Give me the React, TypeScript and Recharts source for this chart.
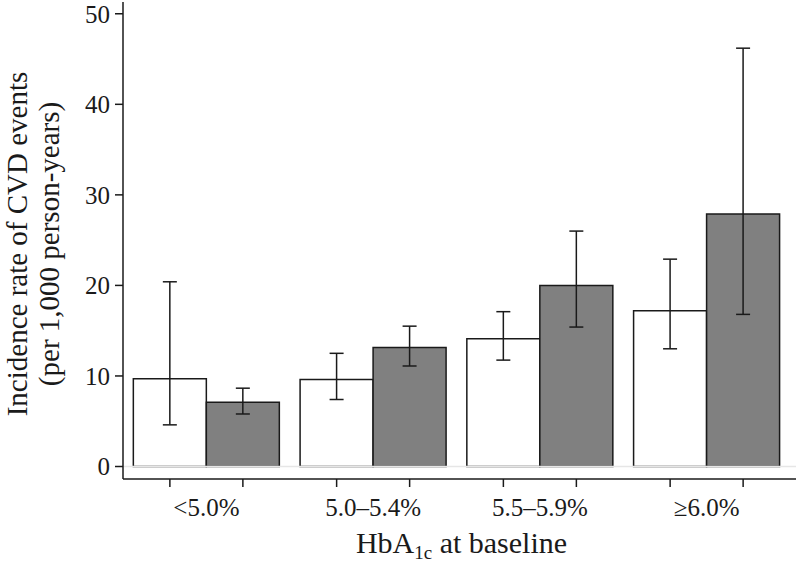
import React from 'react';
import { BarChart, Bar, XAxis, YAxis, ErrorBar, ReferenceLine } from 'recharts';

const categories = ['<5.0%', '5.0–5.4%', '5.5–5.9%', '≥6.0%'];
const whiteRate = [9.7, 9.6, 14.1, 17.2];
const whiteLow = [4.6, 7.4, 11.75, 13.0];
const whiteHigh = [20.4, 12.5, 17.1, 22.9];
const grayRate = [7.1, 13.15, 20.0, 27.9];
const grayLow = [5.8, 11.1, 15.4, 16.8];
const grayHigh = [8.65, 15.5, 26.0, 46.2];
const yTicks = [0, 10, 20, 30, 40, 50];

const data = categories.map((c, i) => ({
  cat: c,
  white: whiteRate[i],
  whiteErr: [whiteRate[i] - whiteLow[i], whiteHigh[i] - whiteRate[i]],
  gray: grayRate[i],
  grayErr: [grayRate[i] - grayLow[i], grayHigh[i] - grayRate[i]],
}));

const FONT = '"Liberation Serif", "Times New Roman", serif';
const INK = '#1a1a1a';

const XTick = (props: any) => {
  const { x, y, payload } = props;
  const off = 36.5;
  return (
    <g>
      <line x1={x - off} x2={x - off} y1={y - 8} y2={y} stroke={INK} strokeWidth={1.5} />
      <line x1={x + off} x2={x + off} y1={y - 8} y2={y} stroke={INK} strokeWidth={1.5} />
      <text x={x} y={y + 29} textAnchor="middle" fontSize={25} fontFamily={FONT} fill={INK}>
        {payload.value}
      </text>
    </g>
  );
};

const XLabel = (props: any) => {
  const vb = props.viewBox || {};
  const cx = vb.x + vb.width / 2 + 2;
  return (
    <text x={cx} y={553} textAnchor="middle" fontSize={30} fontFamily={FONT} fill={INK}>
      HbA
      <tspan fontSize={19} dy={6}>1c</tspan>
      <tspan fontSize={30} dy={-6}> at baseline</tspan>
    </text>
  );
};

const YLabel = (props: any) => {
  const cy = 244;
  return (
    <g>
      <text x={27} y={cy} transform={`rotate(-90 27 ${cy})`} textAnchor="middle" fontSize={29} fontFamily={FONT} fill={INK}>
        Incidence rate of CVD events
      </text>
      <text x={59} y={cy} transform={`rotate(-90 59 ${cy})`} textAnchor="middle" fontSize={29} fontFamily={FONT} fill={INK}>
        (per 1,000 person-years)
      </text>
    </g>
  );
};

export default function App() {
  return (
    <div style={{ position: 'absolute', left: 0, top: 0, width: 798, height: 566, background: '#fff' }}>
      <BarChart
        width={798}
        height={566}
        data={data}
        margin={{ top: 2, right: 2, left: 0, bottom: 0 }}
        barCategoryGap="6.2%"
        barGap={0}
      >
        <ReferenceLine y={0} stroke="#e6e6e6" strokeWidth={1.5} />
        <XAxis
          dataKey="cat"
          height={87}
          tickLine={false}
          tickSize={8}
          tickMargin={0}
          padding={{ left: 0, right: 6 }}
          axisLine={{ stroke: INK, strokeWidth: 1.5 }}
          tick={<XTick />}
          interval={0}
          label={<XLabel />}
        />
        <YAxis
          width={123}
          domain={[-1.38, 51.3]}
          ticks={yTicks}
          allowDataOverflow
          tickSize={8}
          tickMargin={5}
          axisLine={{ stroke: INK, strokeWidth: 1.5 }}
          tickLine={{ stroke: INK, strokeWidth: 1.5 }}
          tick={{ fontSize: 25, fontFamily: FONT, fill: INK }}
          label={<YLabel />}
        />
        <Bar dataKey="white" fill="#ffffff" stroke={INK} strokeWidth={1.5} isAnimationActive={false}>
          <ErrorBar dataKey="whiteErr" width={7} stroke={INK} strokeWidth={1.5} />
        </Bar>
        <Bar dataKey="gray" fill="#808080" stroke={INK} strokeWidth={1.5} isAnimationActive={false}>
          <ErrorBar dataKey="grayErr" width={7} stroke={INK} strokeWidth={1.5} />
        </Bar>
      </BarChart>
    </div>
  );
}
